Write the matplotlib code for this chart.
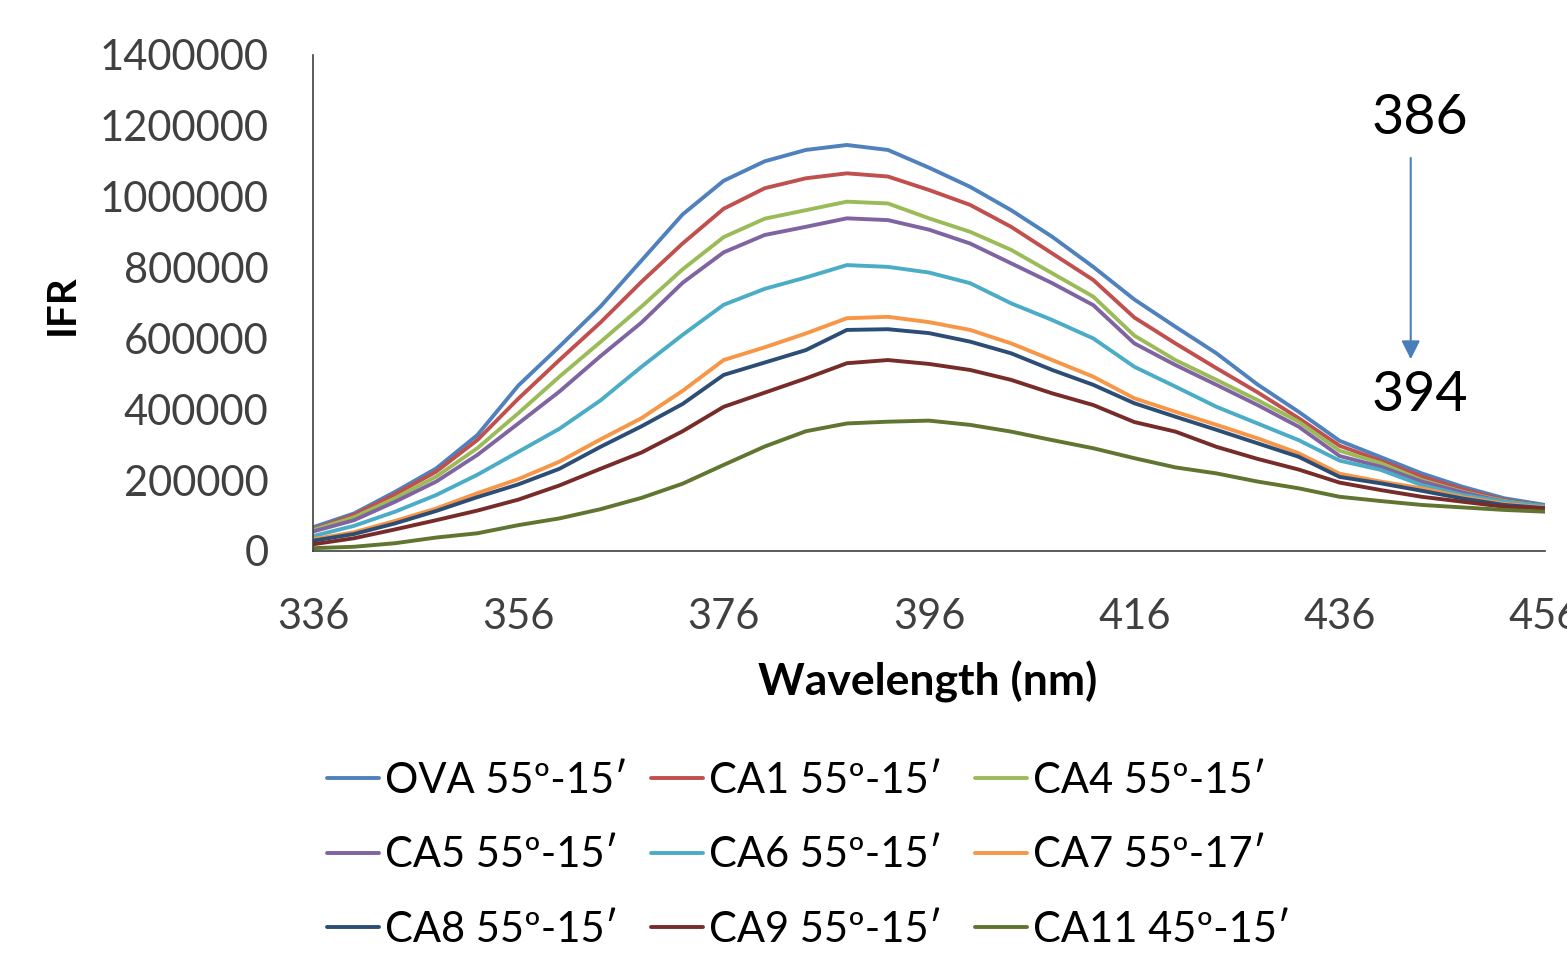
import matplotlib
matplotlib.use('Agg')
import matplotlib.pyplot as plt
from matplotlib.ticker import FixedLocator

plt.rcParams['font.family'] = ['Lato', 'DejaVu Sans']

# wavelength (nm), read every 4 nm
wavelength = [336, 340, 344, 348, 352, 356, 360, 364, 368, 372, 376, 380, 384, 388, 392, 396,
              400, 404, 408, 412, 416, 420, 424, 428, 432, 436, 440, 444, 448, 452, 456]

# fluorescence intensity (x1000)
ova = [67, 106, 167, 233, 327, 467, 577, 690, 820, 950, 1045, 1100, 1132, 1146, 1132, 1082,
       1028, 962, 887, 802, 710, 633, 558, 470, 393, 311, 265, 219, 181, 149, 130]
ca1 = [61, 102, 160, 224, 313, 430, 539, 645, 760, 868, 966, 1024, 1052, 1066, 1057, 1019,
       977, 915, 840, 765, 659, 586, 516, 448, 375, 297, 255, 210, 174, 144, 127]
ca4 = [59, 95, 149, 210, 290, 389, 492, 590, 690, 795, 886, 938, 962, 986, 981, 939,
       901, 850, 784, 718, 608, 539, 483, 426, 365, 283, 248, 200, 167, 141, 125]
ca5 = [55, 87, 139, 196, 271, 360, 450, 550, 645, 757, 843, 892, 915, 939, 934, 907,
       868, 812, 756, 694, 586, 525, 469, 412, 351, 268, 238, 196, 165, 139, 125]
ca6 = [42, 71, 111, 158, 215, 280, 345, 425, 520, 610, 695, 740, 772, 807, 802, 786,
       756, 699, 652, 600, 520, 464, 407, 360, 313, 255, 229, 186, 158, 139, 127]
ca7 = [33, 53, 85, 120, 163, 203, 252, 315, 375, 452, 539, 575, 614, 657, 661, 646,
       624, 586, 539, 492, 431, 393, 356, 318, 276, 218, 196, 177, 152, 133, 123]
ca8 = [29, 48, 78, 113, 152, 188, 232, 294, 352, 415, 497, 532, 567, 624, 626, 615,
       591, 558, 511, 469, 417, 379, 342, 304, 266, 209, 191, 170, 148, 130, 121]
ca9 = [19, 36, 61, 87, 114, 145, 185, 232, 278, 338, 407, 447, 487, 530, 539, 528,
       511, 483, 445, 412, 364, 337, 294, 260, 230, 193, 172, 153, 139, 125, 120]
ca11 = [8, 12, 22, 38, 50, 73, 92, 118, 150, 190, 243, 295, 338, 360, 365, 368,
        356, 337, 313, 290, 262, 236, 219, 196, 177, 153, 141, 130, 123, 116, 111]

labels = ['OVA 55º-15′', 'CA1 55º-15′', 'CA4 55º-15′', 'CA5 55º-15′', 'CA6 55º-15′',
          'CA7 55º-17′', 'CA8 55º-15′', 'CA9 55º-15′', 'CA11 45º-15′']
series = [ova, ca1, ca4, ca5, ca6, ca7, ca8, ca9, ca11]
colors = ['#4F81BD', '#C0504D', '#9BBB59', '#8064A2', '#4BACC6',
          '#F79646', '#2C4D75', '#772C2A', '#5F7530']

xticks = [336, 356, 376, 396, 416, 436, 456]
yticks = [0, 200000, 400000, 600000, 800000, 1000000, 1200000, 1400000]

fig = plt.figure(figsize=(15.67, 9.63), dpi=100)
ax = fig.add_axes([313/1567, 1-551/963, 1232/1567, 496/963])

handles = []
for vals, lab, c in zip(series, labels, colors):
    h, = ax.plot(wavelength, [v*1000 for v in vals], color=c, lw=2.8, label=lab,
                 solid_capstyle='round', solid_joinstyle='round')
    handles.append(h)

ax.set_xlim(336, 456)
ax.set_ylim(0, 1400000)
ax.xaxis.set_major_locator(FixedLocator(xticks))
ax.yaxis.set_major_locator(FixedLocator(yticks))
ax.set_yticklabels([str(v) for v in yticks])
ax.tick_params(length=0, labelsize=30, labelcolor='#404040')
ax.tick_params(axis='y', pad=32)
ax.tick_params(axis='x', pad=34)

for s in ['top', 'right']:
    ax.spines[s].set_visible(False)
for s in ['left', 'bottom']:
    ax.spines[s].set_color('#404040')
    ax.spines[s].set_linewidth(1.2)

ax.set_xlabel('Wavelength (nm)', fontsize=32, fontweight='bold', va='center')
ax.xaxis.set_label_coords((928-313)/1232, (551-682)/496)
ax.set_ylabel('IFR', fontsize=29, fontweight='bold', va='center')
ax.yaxis.set_label_coords((62-313)/1232, (551-305)/496)

# arrow 386 -> 394
ax.annotate('', xy=(0.891, 0.381), xytext=(0.891, 0.798), xycoords='axes fraction',
            arrowprops=dict(arrowstyle='-|>', color='#4A7EBB', lw=1.5, mutation_scale=28))
ax.text(0.8985, 0.872, '386', transform=ax.transAxes, fontsize=40, ha='center', va='center')
ax.text(0.8985, 0.3145, '394', transform=ax.transAxes, fontsize=40, ha='center', va='center')

# legend: three columns, one legend each so the column positions can be set
col_x = [289, 613, 937]
for k, x0 in enumerate(col_x):
    idx = [k, k + 3, k + 6]
    leg = fig.legend([handles[i] for i in idx], [labels[i] for i in idx],
                     loc='upper left', bbox_to_anchor=(x0/1567, 1-724/963), frameon=False,
                     fontsize=30, handlelength=1.25, handletextpad=0.15,
                     labelspacing=0.88, labelcolor='#000000')

fig.savefig('out.png', dpi=100)
